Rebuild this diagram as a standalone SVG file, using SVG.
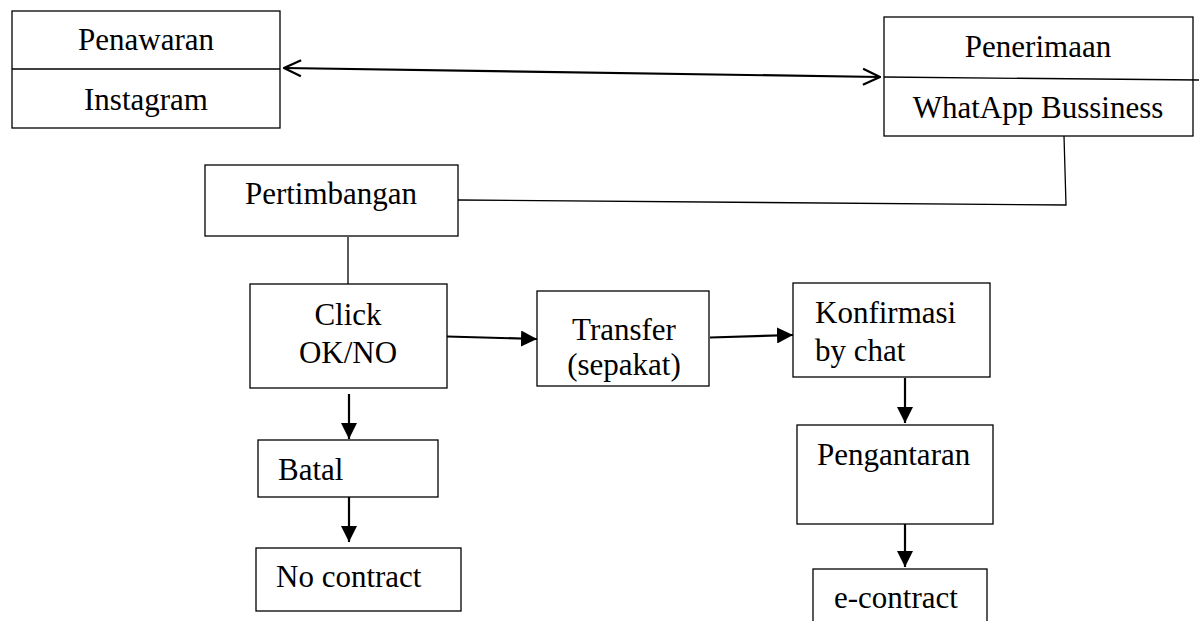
<svg xmlns="http://www.w3.org/2000/svg" width="1201" height="621" viewBox="0 0 1201 621">
<style>
.box{fill:#fff;stroke:#000;stroke-width:1.3}
.ln{fill:none;stroke:#000;stroke-width:1.3}
.ar{fill:none;stroke:#000;stroke-width:2.2}
text{font-family:"Liberation Serif","Times New Roman",serif;font-size:31px;fill:#000}
.c{text-anchor:middle}
</style>
<defs>
<marker id="tri" viewBox="0 0 16 16" refX="16" refY="8" markerWidth="16" markerHeight="16" markerUnits="userSpaceOnUse" orient="auto">
<path d="M0,0 L16,8 L0,16 Z" fill="#000"/>
</marker>
<marker id="open" viewBox="0 0 20 20" refX="19" refY="10" markerWidth="20" markerHeight="20" markerUnits="userSpaceOnUse" orient="auto-start-reverse">
<path d="M2,2 L19,10 L2,18" fill="none" stroke="#000" stroke-width="2.2"/>
</marker>
</defs>
<g id="connectors">
<line class="ar" x1="284" y1="68" x2="880" y2="77" marker-start="url(#open)" marker-end="url(#open)"/>
<polyline class="ln" points="1064,136 1066,205 458,200"/>
<line class="ln" x1="348" y1="237" x2="348" y2="284"/>
<line class="ar" x1="447" y1="336.5" x2="537" y2="339" marker-end="url(#tri)"/>
<line class="ar" x1="710" y1="337.5" x2="793" y2="335" marker-end="url(#tri)"/>
<line class="ar" x1="349" y1="394" x2="349" y2="439" marker-end="url(#tri)"/>
<line class="ar" x1="349" y1="497" x2="349" y2="542" marker-end="url(#tri)"/>
<line class="ar" x1="905" y1="378" x2="905" y2="423" marker-end="url(#tri)"/>
<line class="ar" x1="905" y1="524" x2="905" y2="567" marker-end="url(#tri)"/>
</g>
<g id="penawaran">
<rect class="box" x="12" y="11" width="268" height="117"/>
<line class="ln" x1="12" y1="69" x2="280" y2="69"/>
<text class="c" x="146" y="50">Penawaran</text>
<text class="c" x="146" y="110">Instagram</text>
</g>
<g id="penerimaan">
<rect class="box" x="884" y="17" width="309" height="119"/>
<line class="ln" x1="884" y1="77" x2="1199" y2="80"/>
<text class="c" x="1038" y="57">Penerimaan</text>
<text class="c" x="1038" y="118">WhatApp Bussiness</text>
</g>
<g id="pertimbangan">
<rect class="box" x="205" y="165" width="253" height="71"/>
<text class="c" x="331" y="204">Pertimbangan</text>
</g>
<g id="click">
<rect class="box" x="250" y="284" width="197" height="104"/>
<text class="c" x="348" y="325">Click</text>
<text class="c" x="348" y="363">OK/NO</text>
</g>
<g id="transfer">
<rect class="box" x="537" y="291" width="172" height="95"/>
<text class="c" x="624" y="340">Transfer</text>
<text class="c" x="624" y="375">(sepakat)</text>
</g>
<g id="konfirmasi">
<rect class="box" x="793" y="283" width="197" height="94"/>
<text x="815" y="323">Konfirmasi</text>
<text x="815" y="361">by chat</text>
</g>
<g id="pengantaran">
<rect class="box" x="797" y="425" width="196" height="99"/>
<text x="817" y="465">Pengantaran</text>
</g>
<g id="econtract">
<rect class="box" x="813" y="569" width="174" height="60"/>
<text x="834" y="608">e-contract</text>
</g>
<g id="batal">
<rect class="box" x="258" y="440" width="180" height="57"/>
<text x="278" y="480">Batal</text>
</g>
<g id="nocontract">
<rect class="box" x="256" y="548" width="205" height="63"/>
<text x="276" y="587">No contract</text>
</g>
</svg>
